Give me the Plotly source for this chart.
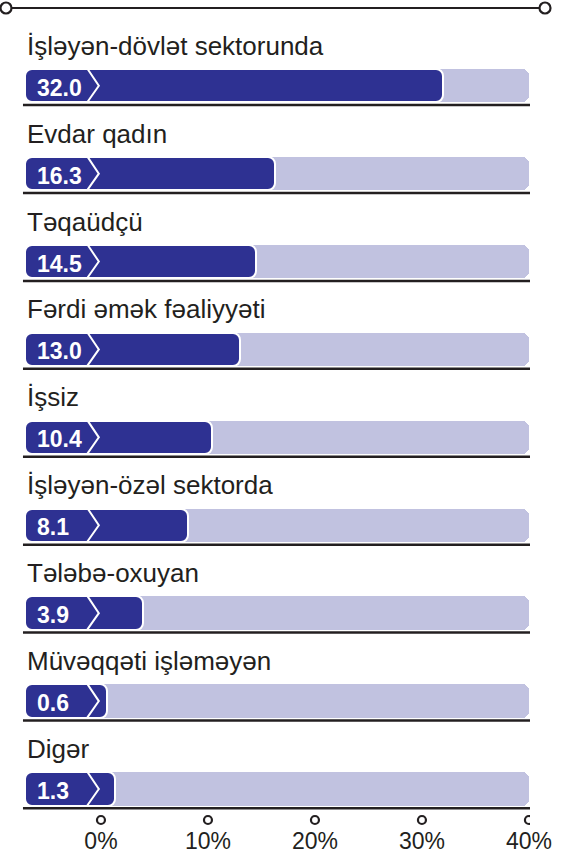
import plotly.graph_objects as go

# ---------------- data ----------------
categories = [
    "İşləyən-dövlət sektorunda",
    "Evdar qadın",
    "Təqaüdçü",
    "Fərdi əmək fəaliyyəti",
    "İşsiz",
    "İşləyən-özəl sektorda",
    "Tələbə-oxuyan",
    "Müvəqqəti işləməyən",
    "Digər",
]
values = [32.0, 16.3, 14.5, 13.0, 10.4, 8.1, 3.9, 0.6, 1.3]
value_labels = ["32.0", "16.3", "14.5", "13.0", "10.4", "8.1", "3.9", "0.6", "1.3"]
tick_values = [0, 10, 20, 30, 40]
tick_labels = ["0%", "10%", "20%", "30%", "40%"]
scale_max = 40

# ---------------- style ----------------
DARK = "#2e3192"
LIGHT = "#c1c2e0"
INK = "#231f20"
FONT = "Liberation Sans, Arial, sans-serif"
W, H = 561, 856
ML, MR, MT, MB = 25, 31, 0, 46
X_MIN, X_MAX = -7.1, 40.1
BAR_W = 0.381
n = len(categories)

fig = go.Figure()

# background (full-scale) bars
fig.add_trace(go.Bar(
    y=categories, x=[scale_max - X_MIN] * n, base=X_MIN, orientation="h",
    width=BAR_W, marker=dict(color=LIGHT, cornerradius=7, line=dict(width=0)),
    hoverinfo="skip", showlegend=False,
))
# value bars
fig.add_trace(go.Bar(
    y=categories, x=[v - X_MIN for v in values], base=X_MIN, orientation="h",
    width=BAR_W, marker=dict(color=DARK, cornerradius=7, line=dict(color="white", width=2)),
    customdata=values, hovertemplate="%{y}: %{customdata}%<extra></extra>",
    showlegend=False,
))

shapes = []
annotations = []
half = BAR_W / 2
for i, (cat, lab) in enumerate(zip(categories, value_labels)):
    # baseline under each bar
    shapes.append(dict(type="line", xref="paper", yref="y", x0=-0.004, x1=1.0,
                       y0=i + half + 0.03, y1=i + half + 0.03,
                       line=dict(color=INK, width=2.5), layer="above"))
    # white chevron separating the value box
    shapes.append(dict(type="path", xref="x", yref="y",
                       path=f"M -1.25,{i - half} L -0.2,{i} L -1.3,{i + half}",
                       line=dict(color="white", width=2), layer="above"))
    # category label above bar
    annotations.append(dict(text=cat, xref="paper", yref="y", x=0, y=cat,
                            xanchor="left", yanchor="middle", yshift=40,
                            showarrow=False, font=dict(family=FONT, size=26, color=INK)))
    # value label inside the box
    annotations.append(dict(text=f"<b>{lab}</b>", xref="paper", yref="y", x=0, y=cat,
                            xanchor="left", yanchor="middle", xshift=10, yshift=-2,
                            showarrow=False, font=dict(family=FONT, size=23, color="white")))

# tick circles under the axis
for t in tick_values:
    shapes.append(dict(type="circle", xref="x", yref="paper", xsizemode="pixel", ysizemode="pixel",
                       xanchor=t, yanchor=0, x0=-4, x1=4, y0=-14, y1=-6,
                       line=dict(color=INK, width=2.2), fillcolor="white"))

# top decorative line with end circles
lx0 = (6 - ML) / (W - ML - MR)
lx1 = (545 - ML) / (W - ML - MR)
shapes.append(dict(type="line", xref="paper", yref="paper", ysizemode="pixel", yanchor=1,
                   x0=lx0, x1=lx1, y0=-8, y1=-8, line=dict(color=INK, width=2)))
for lx in (lx0, lx1):
    shapes.append(dict(type="circle", xref="paper", yref="paper", xsizemode="pixel", ysizemode="pixel",
                       xanchor=lx, yanchor=1, x0=-5.5, x1=5.5, y0=-13.5, y1=-2.5,
                       line=dict(color=INK, width=2.2), fillcolor="white"))

fig.update_layout(
    width=W, height=H,
    margin=dict(l=ML, r=MR, t=MT, b=MB),
    paper_bgcolor="white", plot_bgcolor="white",
    barmode="overlay", bargap=0,
    font=dict(family=FONT, color=INK),
    xaxis=dict(range=[X_MIN, X_MAX], tickvals=tick_values, ticktext=tick_labels,
               ticks="", showgrid=False, zeroline=False, showline=False,
               tickfont=dict(size=23, color=INK), ticklabelstandoff=15, fixedrange=True),
    yaxis=dict(type="category", categoryorder="array", categoryarray=categories,
               range=[8.239, -0.975], showticklabels=False, showgrid=False,
               zeroline=False, showline=False, ticks="", fixedrange=True),
    shapes=shapes, annotations=annotations,
)

fig.write_html("out.html", config={"displayModeBar": False},
               post_script="document.body.style.margin='0';document.body.style.overflow='hidden';")
